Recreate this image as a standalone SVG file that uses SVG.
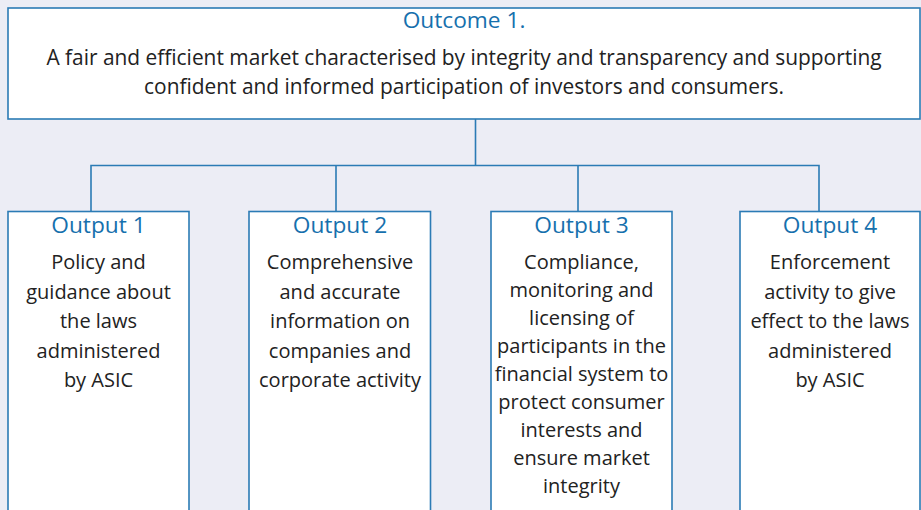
<svg xmlns="http://www.w3.org/2000/svg" width="921" height="510" viewBox="0 0 921 510">
<style>
.bg{fill:#ecedf5}
.box{fill:#ffffff;stroke:#2b7bb5;stroke-width:1.6}
.conn{fill:none;stroke:#2b7bb5;stroke-width:1.6}
.title{font-family:"Open Sans","Noto Sans",sans-serif;font-size:22.7px;fill:#1670ad;text-anchor:middle}
.body{font-family:"Open Sans","Noto Sans",sans-serif;font-size:20px;fill:#222222;text-anchor:middle}
.main{font-size:20.9px}
</style>
<rect class="bg" x="0" y="0" width="921" height="510"/>
<g id="connectors">
<path class="conn" d="M475.5 119 V165.5 M91 211.5 V165.5 H819 V211.5 M336 165.5 V211.5 M578 165.5 V211.5"/>
</g>
<g id="outcome">
<rect class="box" x="8" y="8" width="912" height="111"/>
<text class="title" x="464" y="28">Outcome 1.</text>
<text class="body main" x="464" y="65">A fair and efficient market characterised by integrity and transparency and supporting</text>
<text class="body main" x="464" y="94">confident and informed participation of investors and consumers.</text>
</g>
<g id="output1">
<rect class="box" x="8" y="211.5" width="181" height="320"/>
<text class="title" x="98.5" y="232.5">Output 1</text>
<text class="body" x="98.5" y="269">Policy and</text>
<text class="body" x="98.5" y="298.5">guidance about</text>
<text class="body" x="98.5" y="328">the laws</text>
<text class="body" x="98.5" y="357.5">administered</text>
<text class="body" x="98.5" y="387">by ASIC</text>
</g>
<g id="output2">
<rect class="box" x="249" y="211.5" width="181.5" height="320"/>
<text class="title" x="340" y="232.5">Output 2</text>
<text class="body" x="340" y="269">Comprehensive</text>
<text class="body" x="340" y="298.5">and accurate</text>
<text class="body" x="340" y="328">information on</text>
<text class="body" x="340" y="357.5">companies and</text>
<text class="body" x="340" y="387">corporate activity</text>
</g>
<g id="output3">
<rect class="box" x="491" y="211.5" width="181" height="320"/>
<text class="title" x="581.5" y="232.5">Output 3</text>
<text class="body" x="581.5" y="269">Compliance,</text>
<text class="body" x="581.5" y="297">monitoring and</text>
<text class="body" x="581.5" y="325">licensing of</text>
<text class="body" x="581.5" y="353">participants in the</text>
<text class="body" x="581.5" y="381">financial system to</text>
<text class="body" x="581.5" y="409">protect consumer</text>
<text class="body" x="581.5" y="437">interests and</text>
<text class="body" x="581.5" y="465">ensure market</text>
<text class="body" x="581.5" y="493">integrity</text>
</g>
<g id="output4">
<rect class="box" x="740" y="211.5" width="180" height="320"/>
<text class="title" x="830" y="232.5">Output 4</text>
<text class="body" x="830" y="269">Enforcement</text>
<text class="body" x="830" y="298.5">activity to give</text>
<text class="body" x="830" y="328">effect to the laws</text>
<text class="body" x="830" y="357.5">administered</text>
<text class="body" x="830" y="387">by ASIC</text>
</g>
</svg>
